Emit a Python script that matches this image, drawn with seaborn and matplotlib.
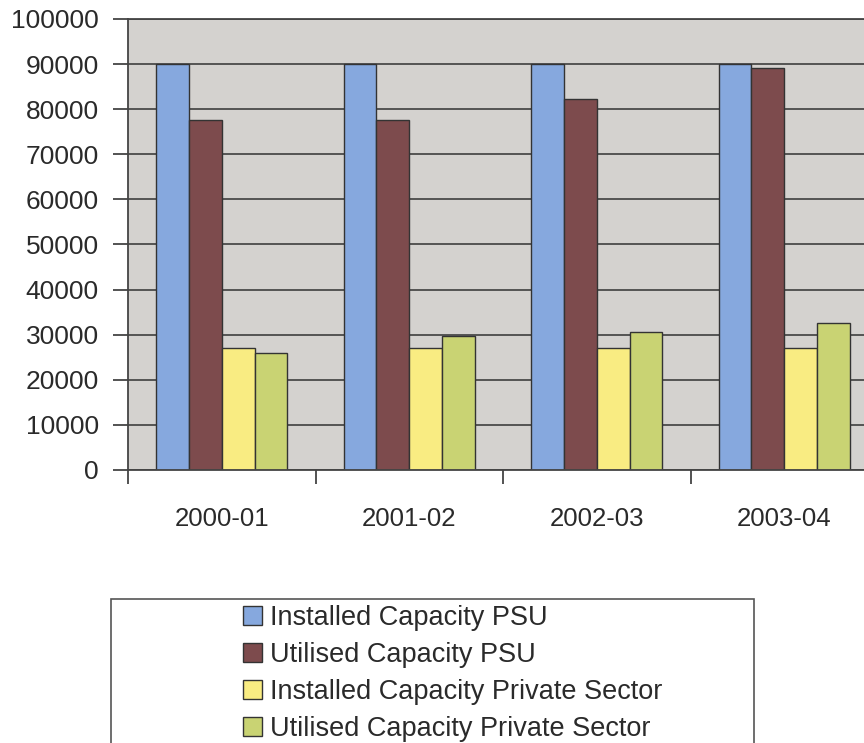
import matplotlib
matplotlib.use('Agg')
import matplotlib.pyplot as plt
import seaborn as sns
import pandas as pd
from matplotlib.patches import Rectangle

years = ['2000-01', '2001-02', '2002-03', '2003-04']
series = ['Installed Capacity PSU', 'Utilised Capacity PSU',
          'Installed Capacity Private Sector', 'Utilised Capacity Private Sector']
installed_psu = [90000, 90000, 90000, 90000]
utilised_psu = [77600, 77600, 82300, 89200]
installed_private = [27000, 27000, 27000, 27000]
utilised_private = [25900, 29800, 30500, 32500]
colors = ['#86a8de', '#7d4b4d', '#f9ec82', '#c9d373']
yticks = list(range(0, 100001, 10000))

sns.set_theme(style='white')
plt.rcParams['font.family'] = ['Liberation Sans', 'DejaVu Sans']

values = [installed_psu, utilised_psu, installed_private, utilised_private]
rows = []
for s, vals in zip(series, values):
    for y, v in zip(years, vals):
        rows.append({'Year': y, 'Series': s, 'Value': v})
df = pd.DataFrame(rows)

fig = plt.figure(figsize=(8.64, 7.43), dpi=100)
ax = fig.add_axes([128 / 864, 1 - 470 / 743, 750 / 864, 451 / 743])
ax.set_facecolor('#d4d2cf')

sns.barplot(data=df, x='Year', y='Value', hue='Series', order=years,
            hue_order=series, palette=colors, width=0.7, saturation=1,
            edgecolor='#333333', linewidth=1, ax=ax)

handles, labels = ax.get_legend_handles_labels()
if ax.get_legend() is not None:
    ax.get_legend().remove()

ax.set_xlim(-0.5, 3.5)
ax.set_ylim(0, 100000)
ax.set_axisbelow(True)
ax.yaxis.grid(True, color='#4a4a4a', linewidth=1.3)
ax.xaxis.grid(False)
ax.set_xlabel('')
ax.set_ylabel('')

ax.set_yticks(yticks)
ax.set_yticklabels([str(t) for t in yticks])
ax.tick_params(axis='y', direction='out', length=11, width=1.3, color='#444444',
               pad=10, labelsize=19, labelcolor='#2a2a2a', left=True)
ax.set_xticks(range(len(years)))
ax.set_xticklabels(years)
ax.set_xticks([i - 0.5 for i in range(len(years) + 1)], minor=True)
ax.tick_params(axis='x', which='major', length=0, pad=27, labelsize=18.5,
               labelcolor='#2a2a2a')
ax.tick_params(axis='x', which='minor', direction='out', length=10, width=1.3,
               color='#444444', bottom=True)

for name, sp in ax.spines.items():
    sp.set_color('#444444')
    sp.set_linewidth(1.3)

fig.legend(handles, labels, loc='upper left',
           bbox_to_anchor=(243 / 864, 1 - 605 / 743),
           frameon=False, fontsize=19.5, handlelength=0.7, handleheight=0.7,
           handletextpad=0.3, labelspacing=0.41, borderaxespad=0, borderpad=0,
           labelcolor='#2a2a2a')

box = Rectangle((111 / 864, -0.05), (754 - 111) / 864, (1 - 599 / 743) + 0.05,
                transform=fig.transFigure, fill=False, edgecolor='#555555',
                linewidth=1.2)
fig.add_artist(box)

fig.savefig('out.png', dpi=100, facecolor='white')
